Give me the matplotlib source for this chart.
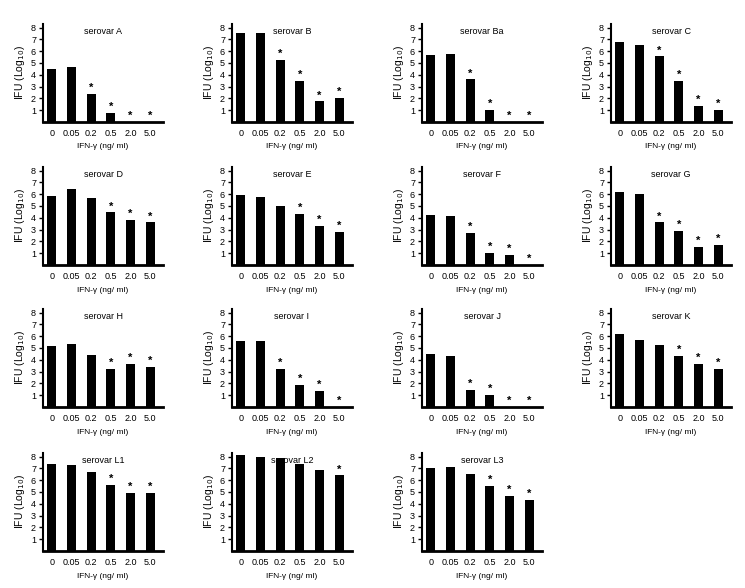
import matplotlib
matplotlib.use("Agg")
import matplotlib.pyplot as plt

plt.rcParams['font.family'] = ['Liberation Sans', 'DejaVu Sans']

doses = ["0", "0.05", "0.2", "0.5", "2.0", "5.0"]

serovars = ["A", "B", "Ba", "C", "D", "E", "F", "G", "H", "I", "J", "K", "L1", "L2", "L3"]

val_A  = [4.5, 4.7, 2.35, 0.75, 0.0, 0.0]
val_B  = [7.5, 7.55, 5.25, 3.45, 1.75, 2.05]
val_Ba = [5.7, 5.75, 3.6, 1.0, 0.0, 0.0]
val_C  = [6.8, 6.55, 5.55, 3.5, 1.35, 1.0]
val_D  = [5.85, 6.4, 5.65, 4.45, 3.8, 3.6]
val_E  = [5.9, 5.8, 5.0, 4.35, 3.3, 2.8]
val_F  = [4.2, 4.15, 2.75, 1.0, 0.85, 0.0]
val_G  = [6.15, 6.05, 3.6, 2.9, 1.55, 1.7]
val_H  = [5.15, 5.35, 4.4, 3.25, 3.65, 3.4]
val_I  = [5.6, 5.55, 3.25, 1.9, 1.35, 0.0]
val_J  = [4.5, 4.35, 1.45, 1.0, 0.0, 0.0]
val_K  = [6.15, 5.7, 5.25, 4.35, 3.65, 3.2]
val_L1 = [7.4, 7.3, 6.7, 5.6, 4.9, 4.9]
val_L2 = [8.1, 8.0, 7.9, 7.35, 6.9, 6.4]
val_L3 = [7.05, 7.1, 6.5, 5.5, 4.65, 4.35]

# significance markers (1 = asterisk)
sig_A  = [0, 0, 1, 1, 1, 1]
sig_B  = [0, 0, 1, 1, 1, 1]
sig_Ba = [0, 0, 1, 1, 1, 1]
sig_C  = [0, 0, 1, 1, 1, 1]
sig_D  = [0, 0, 0, 1, 1, 1]
sig_E  = [0, 0, 0, 1, 1, 1]
sig_F  = [0, 0, 1, 1, 1, 1]
sig_G  = [0, 0, 1, 1, 1, 1]
sig_H  = [0, 0, 0, 1, 1, 1]
sig_I  = [0, 0, 1, 1, 1, 1]
sig_J  = [0, 0, 1, 1, 1, 1]
sig_K  = [0, 0, 0, 1, 1, 1]
sig_L1 = [0, 0, 0, 1, 1, 1]
sig_L2 = [0, 0, 0, 0, 0, 1]
sig_L3 = [0, 0, 0, 1, 1, 1]

values = [val_A, val_B, val_Ba, val_C, val_D, val_E, val_F, val_G,
          val_H, val_I, val_J, val_K, val_L1, val_L2, val_L3]
sigs = [sig_A, sig_B, sig_Ba, sig_C, sig_D, sig_E, sig_F, sig_G,
        sig_H, sig_I, sig_J, sig_K, sig_L1, sig_L2, sig_L3]

W, H = 745, 588
fig = plt.figure(figsize=(W / 100, H / 100), dpi=100)

col_left = [43, 232, 422, 611]
row_bottom = [122, 265, 407, 551]
ax_w = 120
ax_h = 98

fs_tick = 6.5
fs_title = 6.5
fs_xlab = 6
fs_ylab = 7.5
for i, (name, v, s) in enumerate(zip(serovars, values, sigs)):
    r, c = divmod(i, 4)
    left = col_left[c] / W
    bottom = 1 - row_bottom[r] / H
    ax = fig.add_axes([left, bottom, ax_w / W, ax_h / H])
    x = list(range(len(doses)))
    ax.bar(x, v, width=0.45, color='black')
    for xi, vi, si in zip(x, v, s):
        if si:
            ax.text(xi, vi + 0.08, "*", ha='center', va='bottom', fontsize=8, fontweight='bold')
    ax.set_xlim(-0.45, 5.65)
    ax.set_ylim(0, 8.3)
    ax.set_yticks(range(1, 9))
    ax.set_yticklabels([str(k) for k in range(1, 9)], fontsize=fs_tick)
    ax.set_xticks(x)
    ax.set_xticklabels(doses, fontsize=fs_tick)
    ax.tick_params(axis='x', length=0, pad=5)
    ax.tick_params(axis='y', length=3, width=1, pad=2)
    ax.spines['top'].set_visible(False)
    ax.spines['right'].set_visible(False)
    ax.spines['left'].set_linewidth(1.5)
    ax.spines['bottom'].set_linewidth(2)
    ax.set_xlabel("IFN-γ (ng/ ml)", fontsize=fs_xlab, labelpad=4)
    ax.set_ylabel("IFU (Log$_{10}$)", fontsize=fs_ylab, labelpad=3)
    ax.text(0.5, 0.97, "serovar " + name, transform=ax.transAxes,
            ha='center', va='top', fontsize=fs_title)

fig.savefig("out.png", dpi=100)
